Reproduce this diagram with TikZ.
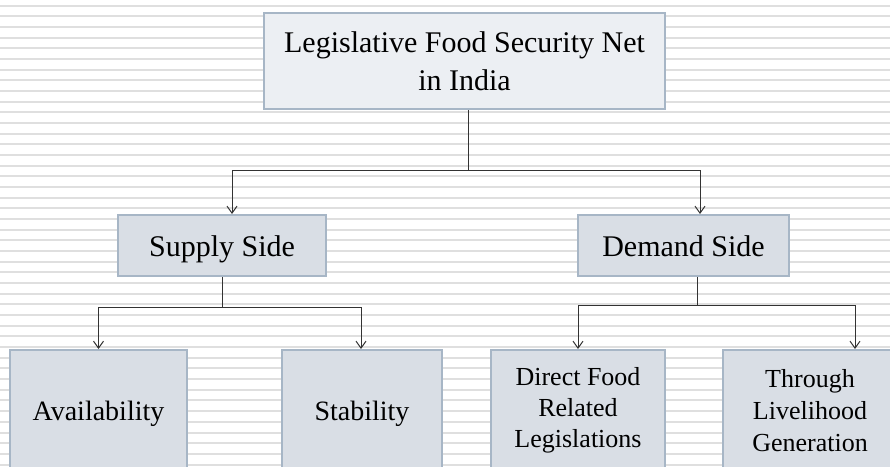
\documentclass[tikz,border=0pt]{standalone}
\usepackage{fontspec}
\setmainfont{Liberation Serif}
\usetikzlibrary{arrows.meta}
\definecolor{stripegray}{HTML}{DFDFDF}
\definecolor{boxedge}{HTML}{A7B6C6}
\definecolor{topfill}{HTML}{ECEFF3}
\definecolor{boxfill}{HTML}{D9DEE5}
\definecolor{linkgray}{HTML}{333333}
\begin{document}
\begin{tikzpicture}[x=1pt,y=-1pt,
    box/.style={draw=boxedge,line width=2pt,fill=boxfill,inner sep=0pt,align=center},
    oneline/.style={text height=21pt,text depth=0pt},
    link/.style={draw=linkgray,line width=1pt},
    >={Straight Barb[length=7pt,width=10pt]}]
      \useasboundingbox (0,0) rectangle (890,466);
      \clip (0,0) rectangle (890,466);
      \fill[white] (0,0) rectangle (890,466);
      \foreach \k in {0,...,43}
        \draw[stripegray,line width=2pt] (0,5.7+\k*10.67) -- (890,5.7+\k*10.67);
      \node[box,fill=topfill,minimum width=401pt,minimum height=96pt,
        font=\fontsize{30}{38}\selectfont] (top) at (464.5,61)
        {Legislative Food Security Net\\in India};
      \node[box,oneline,minimum width=208pt,minimum height=61pt,
        font=\fontsize{30}{36}\selectfont] (supply) at (222,245.5) {Supply Side};
      \node[box,oneline,minimum width=211pt,minimum height=61pt,
        font=\fontsize{30}{36}\selectfont] (demand) at (683.5,245.5) {Demand Side};
      \node[box,oneline,text height=19pt,minimum width=177pt,minimum height=121pt,
        font=\fontsize{28}{34}\selectfont] (avail) at (98.5,410.5) {Availability};
      \node[box,oneline,text height=19pt,minimum width=160pt,minimum height=121pt,
        font=\fontsize{28}{34}\selectfont] (stab) at (362,410.5) {Stability};
      \node[box,minimum width=174pt,minimum height=121pt,
        font=\fontsize{26}{31}\selectfont] (direct) at (578,410.5)
        {Direct Food\\Related\\Legislations};
      \node[box,minimum width=174pt,minimum height=121pt,
        font=\fontsize{26}{32}\selectfont] (through) at (810,410.5)
        {Through\\Livelihood\\Generation};
      % junction points
      \coordinate (jtop) at (468,170);
      \coordinate (jtl) at (232,170);
      \coordinate (jtr) at (700,170);
      \coordinate (jsup) at (222,307);
      \coordinate (jsl) at (98.5,307);
      \coordinate (jsr) at (361,307);
      \coordinate (jdem) at (697,305);
      \coordinate (jdl) at (578,305);
      \coordinate (jdr) at (855,305);
      \begin{scope}[link]
        \draw (top.south -| jtop) -- (jtop);
        \draw (jtl) -- (jtr);
        \draw[->] (jtl) -- (jtl |- supply.north);
        \draw[->] (jtr) -- (jtr |- demand.north);
        \draw (supply.south -| jsup) -- (jsup);
        \draw (jsl) -- (jsr);
        \draw[->] (jsl) -- (jsl |- avail.north);
        \draw[->] (jsr) -- (jsr |- stab.north);
        \draw (demand.south -| jdem) -- (jdem);
        \draw (jdl) -- (jdr);
        \draw[->] (jdl) -- (jdl |- direct.north);
        \draw[->] (jdr) -- (jdr |- through.north);
      \end{scope}
    \end{tikzpicture}
\end{document}
